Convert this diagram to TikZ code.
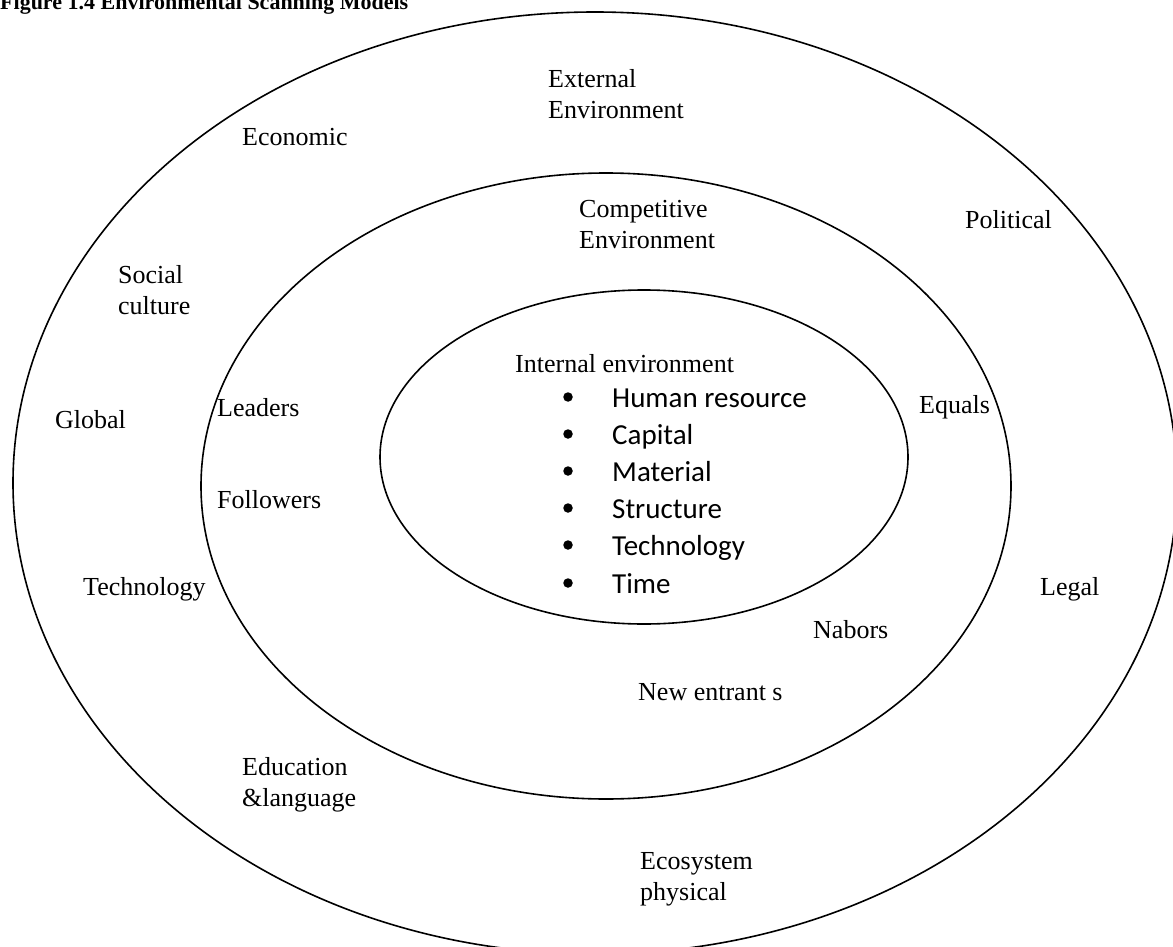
\documentclass[tikz,border=0pt]{standalone}
\usepackage{fontspec}
\setmainfont{Liberation Serif}
\newfontfamily\listfont{Carlito}
\usepackage{tikz}

\begin{document}
\begin{tikzpicture}
[x=1pt,y=-1pt,ring/.style={draw,line width=1.6pt},
 point/.style={circle,fill=black,inner sep=0pt,minimum size=9.5pt},
 lbl/.style={anchor=base west,inner sep=0pt,align=left,font=\fontsize{26}{31}\selectfont},
 entry/.style={anchor=base west,inner sep=0pt,font=\listfont\fontsize{29}{35}\selectfont},]

\useasboundingbox (0,0) rectangle (1173,947);

\node (title) at (0,10)[anchor=base west,inner sep=0pt,font=\bfseries\fontsize{22}{26}\selectfont]{Figure 1.4 Environmental Scanning Models};

% rings
\draw [ring] (595,483) ellipse [x radius=582,y radius=471];
\draw [ring] (606,486) ellipse [x radius=405,y radius=313];
\draw [ring] (644,457) ellipse [x radius=264,y radius=167];

% external ring
\node (ext) at (548,119)[lbl]{External\\Environment};
\node (econ) at (242,146)[lbl]{Economic};
\node (pol) at (965,228)[lbl]{Political};
\node (soc) at (118,314)[lbl]{Social\\culture};
\node (glob) at (55,428)[lbl]{Global};
\node (tech) at (83,595)[lbl]{Technology};
\node (legal) at (1040,595)[lbl]{Legal};
\node (edu) at (242,806)[lbl]{Education\\\&language};
\node (eco) at (640,900)[lbl]{Ecosystem\\physical};

% competitive ring
\node (comp) at (579,248)[lbl]{Competitive\\Environment};
\node (lead) at (217,416)[lbl]{Leaders};
\node (eq) at (919,413)[lbl]{Equals};
\node (foll) at (217,508)[lbl]{Followers};
\node (nab) at (813,638)[lbl]{Nabors};
\node (new) at (638,700)[lbl]{New entrant s};

% internal ring
\node (int) at (515,372)[lbl]{Internal environment};
\foreach \name/\y in {Human resource/407,Capital/444,Material/481,Structure/518,Technology/555,Time/593}{
  \node at (568,\y-10)[point]{};
  \node at (612,\y)[entry]{\name};
}

\end{tikzpicture}
\end{document}
